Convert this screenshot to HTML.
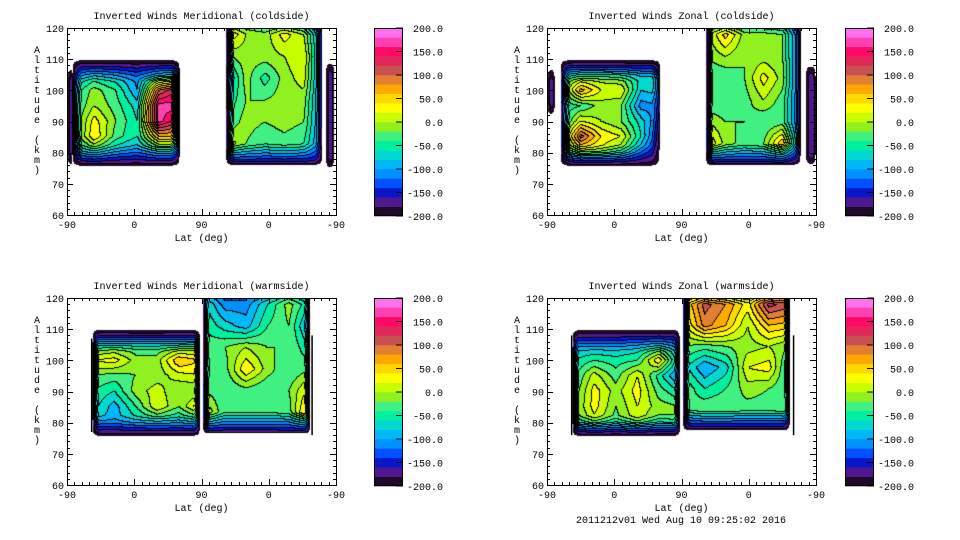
<!DOCTYPE html>
<html><head><meta charset="utf-8"><style>
html,body{margin:0;padding:0;background:#fff;}
#wrap{position:relative;width:960px;height:540px;overflow:hidden;background:#fff;}
canvas{position:absolute;}
svg{position:absolute;left:0;top:0;}
text{font-family:"Liberation Mono",monospace;font-size:10px;fill:#000;}
</style></head><body>
<div id="wrap">
<canvas id="c-tl" width="269" height="187" style="left:67px;top:28px"></canvas>
<canvas id="c-tr" width="269" height="187" style="left:547px;top:28px"></canvas>
<canvas id="c-bl" width="269" height="187" style="left:67px;top:298px"></canvas>
<canvas id="c-br" width="269" height="187" style="left:547px;top:298px"></canvas>
<svg id="ov" width="960" height="540" xmlns="http://www.w3.org/2000/svg"></svg>
</div>
<script>
const levelColors = ["#200828","#501890","#0818c8","#0050ff","#0090ff","#00b8f8","#00d8d0","#00f0a0","#40f080","#90f020","#c8ff00","#ffff00","#ffd800","#ffa800","#e08030","#c85050","#e02858","#ff0868","#ff40b0","#ff70f0"];
const cbTickLabels = ["200.0","150.0","100.0","50.0","0.0","-50.0","-100.0","-150.0","-200.0"];
const cbTickValues = [200,150,100,50,0,-50,-100,-150,-200];
const xTickLabels = ["-90","0","90","0","-90"];
const xTickValues = [0,90,180,270,360];
const yTickValues = [60,70,80,90,100,110,120];

const tlLeftExtent = [7,151,75.5,110];
const tlLeftVals = [
[-150,-150,-150,-150,-150,-150],
[-100,-60,-80,-110,-60,-40],
[-60,-10,-40,-100,100,150],
[-50,0,-30,-70,170,170],
[-50,30,-20,-60,170,120],
[-50,40,-30,-60,60,60],
[-80,-40,-80,-100,-60,-60],
[-150,-150,-150,-150,-150,-150]];
const tlRightExtent = [213,342,76,125];
const tlRightVals = [
[60,40,0,20,-20,-120],
[50,0,-10,30,0,-120],
[-20,-10,-10,0,20,-120],
[-90,-10,-50,-10,10,-120],
[-60,-20,-20,-10,-10,-120],
[-40,-10,-20,-10,-20,-120],
[20,-20,-40,-30,-40,-120],
[-100,-100,-100,-100,-100,-120]];
const tlLens1Extent = [0,12,76,107];
const tlLens2Extent = [346,358,75,109];

const trLeftExtent = [18,152,75.5,110];
const trLeftVals = [
[-150,-150,-150,-150,-150,-150],
[-60,-20,-20,-30,-60,-60],
[-40,70,20,20,-80,-70],
[-60,-40,-10,-20,-110,-100],
[-60,20,0,-20,-70,-130],
[-40,110,40,20,-60,-160],
[-60,20,10,-20,-100,-170],
[-150,-150,-150,-150,-150,-150]];
const trRightExtent = [213,340,76,125];
const trRightVals = [
[-10,30,-10,-10,-20,-140],
[-10,50,-10,-10,-20,-140],
[-20,0,-20,-10,-20,-140],
[-40,-40,-20,30,-10,-140],
[-40,-40,-30,0,-30,-140],
[0,-20,-20,-40,-30,-140],
[50,-10,-30,-20,60,-140],
[-100,-100,-100,-100,-100,-140]];
const trLens1Extent = [0,11,92,107];
const trLens2Extent = [346,360,76,108];

const blLeftExtent = [34,178,75.5,110];
const blLeftVals = [
[-150,-150,-150,-150,-150,-150],
[-40,-30,-40,-40,-30,-20],
[20,30,-10,-10,60,40],
[-20,-30,-20,-10,10,20],
[-40,-60,-10,10,-20,-20],
[-50,-90,-40,20,-20,40],
[-80,-90,-70,-60,-70,-50],
[-150,-150,-150,-150,-150,-150]];
const blRightExtent = [182,325,76.5,125];
const blRightVals = [
[-60,-100,-100,-80,-10,-60],
[-50,-110,-110,-60,-10,-60],
[-40,-70,-90,-40,-20,-100],
[-30,-20,0,-20,-20,-60],
[-40,-30,40,-10,-40,-20],
[-20,-40,-30,-40,-20,30],
[30,-40,-40,-40,-30,70],
[-100,-100,-100,-100,-100,-100]];

const brLeftExtent = [34,178,75.5,110];
const brLeftVals = [
[-150,-150,-150,-150,-150,-150],
[-90,-90,-90,-80,-60,-100],
[-60,-40,-50,-40,40,-90],
[-50,10,-30,20,-50,-110],
[-40,30,-10,30,-30,-60],
[-30,30,-20,20,-10,-20],
[-40,10,-30,10,-30,-20],
[-150,-150,-150,-150,-150,-150]];
const brRightExtent = [182,325,77.5,125];
const brRightVals = [
[20,60,40,20,80,100],
[30,110,80,30,130,110],
[10,90,60,0,60,50],
[-20,-30,-20,-10,0,-20],
[-50,-100,-70,20,30,-60],
[-20,-60,-40,-10,-20,-40],
[-40,-20,-20,-30,-30,-20],
[-120,-120,-120,-120,-120,-120]];
const lensVals = [[-170,-170],[-170,-170]];

function hex(c){return [parseInt(c.substr(1,2),16),parseInt(c.substr(3,2),16),parseInt(c.substr(5,2),16)];}
const rgb = levelColors.map(hex);

function sample(b,u,a){
  const [u0,u1,a0,a1]=b.ext, v=b.vals, m=v.length, n=v[0].length;
  let fu=(u-u0)/(u1-u0)*(n-1), fa=(a1-a)/(a1-a0)*(m-1);
  fu=Math.max(0,Math.min(n-1,fu)); fa=Math.max(0,Math.min(m-1,fa));
  const i=Math.min(n-2,Math.floor(fu)), j=Math.min(m-2,Math.floor(fa));
  const tu=fu-i, ta=fa-j;
  let val=(v[j][i]*(1-tu)+v[j][i+1]*tu)*(1-ta)+(v[j+1][i]*(1-tu)+v[j+1][i+1]*tu)*ta;
  const cl=x=>Math.max(0,Math.min(1,x));
  const f=cl((u-u0)/b.sw)*cl((u1-u)/b.sw)*cl((a-a0)/b.vw)*cl((a1-a)/b.vw);
  return -215+(val+215)*Math.sqrt(f);
}
function drawField(id,blocks){
  const cv=document.getElementById(id), ctx=cv.getContext('2d');
  const W=cv.width,H=cv.height, img=ctx.createImageData(W,H), lev=new Int16Array(W*H).fill(-1);
  for(let py=0;py<H;py++)for(let px=0;px<W;px++){
    const u=(px+0.5)/W*360, a=120-(py+0.5)/H*60;
    for(const b of blocks){
      if(u>=b.ext[0]&&u<=b.ext[1]&&a>=b.ext[2]&&a<=b.ext[3]){
        const v=sample(b,u,a);
        if(v>=-200) lev[py*W+px]=Math.min(19,Math.floor((v+200)/20));
        break;
      }
    }
  }
  for(let i=0;i<W*H;i++){
    const L=lev[i]; let r=255,g=255,bl=255;
    if(L>=0){
      [r,g,bl]=rgb[L];
      const px=i%W;
      if((px>0&&lev[i-1]>=0&&lev[i-1]!==L)||(i>=W&&lev[i-W]>=0&&lev[i-W]!==L)){r=g=bl=0;}
    }
    img.data[i*4]=r;img.data[i*4+1]=g;img.data[i*4+2]=bl;img.data[i*4+3]=255;
  }
  ctx.putImageData(img,0,0);
}
drawField('c-tl',[{ext:tlLeftExtent,vals:tlLeftVals,sw:12,vw:7},{ext:tlRightExtent,vals:tlRightVals,sw:10,vw:7},{ext:tlLens1Extent,vals:lensVals,sw:5,vw:4},{ext:tlLens2Extent,vals:lensVals,sw:5,vw:4}]);
drawField('c-tr',[{ext:trLeftExtent,vals:trLeftVals,sw:12,vw:7},{ext:trRightExtent,vals:trRightVals,sw:8,vw:7},{ext:trLens1Extent,vals:lensVals,sw:5,vw:4},{ext:trLens2Extent,vals:lensVals,sw:5,vw:4}]);
drawField('c-bl',[{ext:blLeftExtent,vals:blLeftVals,sw:8,vw:7},{ext:blRightExtent,vals:blRightVals,sw:8,vw:7}]);
drawField('c-br',[{ext:brLeftExtent,vals:brLeftVals,sw:8,vw:7},{ext:brRightExtent,vals:brRightVals,sw:8,vw:7}]);

const NS="http://www.w3.org/2000/svg", ov=document.getElementById('ov');
function mk(tag,attrs,parent,txt){const e=document.createElementNS(NS,tag);for(const k in attrs)e.setAttribute(k,attrs[k]);if(txt!==undefined)e.textContent=txt;(parent||ov).appendChild(e);return e;}
const panels=[
 {key:'tl',ox:67,oy:28,cbx:374,title:'Inverted Winds Meridional (coldside)',lines:[]},
 {key:'tr',ox:547,oy:28,cbx:845,title:'Inverted Winds Zonal (coldside)',lines:[]},
 {key:'bl',ox:67,oy:298,cbx:374,title:'Inverted Winds Meridional (warmside)',lines:[[33,77,107],[328,76,108]]},
 {key:'br',ox:547,oy:298,cbx:845,title:'Inverted Winds Zonal (warmside)',lines:[[33,76,108],[330,76,108]]}];
const PW=269,PH=187;
for(const p of panels){
  const g=mk('g',{});
  
  
  const xs=u=>p.ox+u/360*PW, ys=a=>p.oy+(120-a)/60*PH;
  for(const l of p.lines){
    const ln=mk('line',{x1:xs(l[0]),x2:xs(l[0]),y1:ys(l[1]),y2:ys(l[2]),stroke:'#000','stroke-width':1.5},g);
    
    
  }
  const fr=mk('rect',{x:p.ox+0.5,y:p.oy+0.5,width:PW,height:PH,fill:'none',stroke:'#000','stroke-width':1},g);
  
  
  let d='';
  for(let u=0;u<=360;u+=10){const x=Math.round(xs(u))+0.5,len=(u%90===0)?6:3;d+=`M${x} ${p.oy+PH}v${-len}M${x} ${p.oy}v${len}`;}
  for(let a=60;a<=120;a+=2){const y=Math.round(ys(a))+0.5,len=(a%10===0)?6:3;d+=`M${p.ox} ${y}h${len}M${p.ox+PW} ${y}h${-len}`;}
  const tk=mk('path',{d:d,stroke:'#000','stroke-width':1,fill:'none'},g);
  
  
  xTickLabels.forEach((t,i)=>{const e=mk('text',{x:xs(xTickValues[i]),y:p.oy+PH+13,'text-anchor':'middle'},g,t);
    
    });
  yTickValues.forEach(v=>{const e=mk('text',{x:p.ox-3,y:ys(v)+4,'text-anchor':'end'},g,String(v));
    
    });
  const xt=mk('text',{x:p.ox+PW/2,y:p.oy+PH+26,'text-anchor':'middle'},g,'Lat (deg)');
  
  
  const yt=mk('text',{x:p.ox-30,y:p.oy+25,'text-anchor':'middle'},g);
  
  
  'Altitude (km)'.split('').forEach((c,i)=>{mk('tspan',{x:p.ox-30,y:p.oy+25+i*10},yt,c);});
  const ti=mk('text',{x:p.ox+PW/2,y:p.oy-9,'text-anchor':'middle'},g,p.title);
  
  
  const cb=mk('g',{},g);
  
  
  const cbh=PH+1, bh=cbh/levelColors.length;
  levelColors.forEach((c,i)=>{const r=mk('rect',{x:p.cbx,y:p.oy+cbh-(i+1)*bh,width:29,height:bh+0.3,fill:c},cb);
    
    });
  mk('rect',{x:p.cbx+0.5,y:p.oy+0.5,width:28,height:cbh-1,fill:'none',stroke:'#000'},cb);
  cbTickValues.forEach((v,i)=>{const y=p.oy+(200-v)/400*cbh;
    mk('line',{x1:p.cbx+22,x2:p.cbx+29,y1:y,y2:y,stroke:'#000'},cb);
    const e=mk('text',{x:p.cbx+69,y:y+4,'text-anchor':'end'},cb,cbTickLabels[i]);
    
    });
}
const ft=mk('text',{x:681,y:523,'text-anchor':'middle'},ov,'2011212v01 Wed Aug 10 09:25:02 2016');


</script>
</body></html>
